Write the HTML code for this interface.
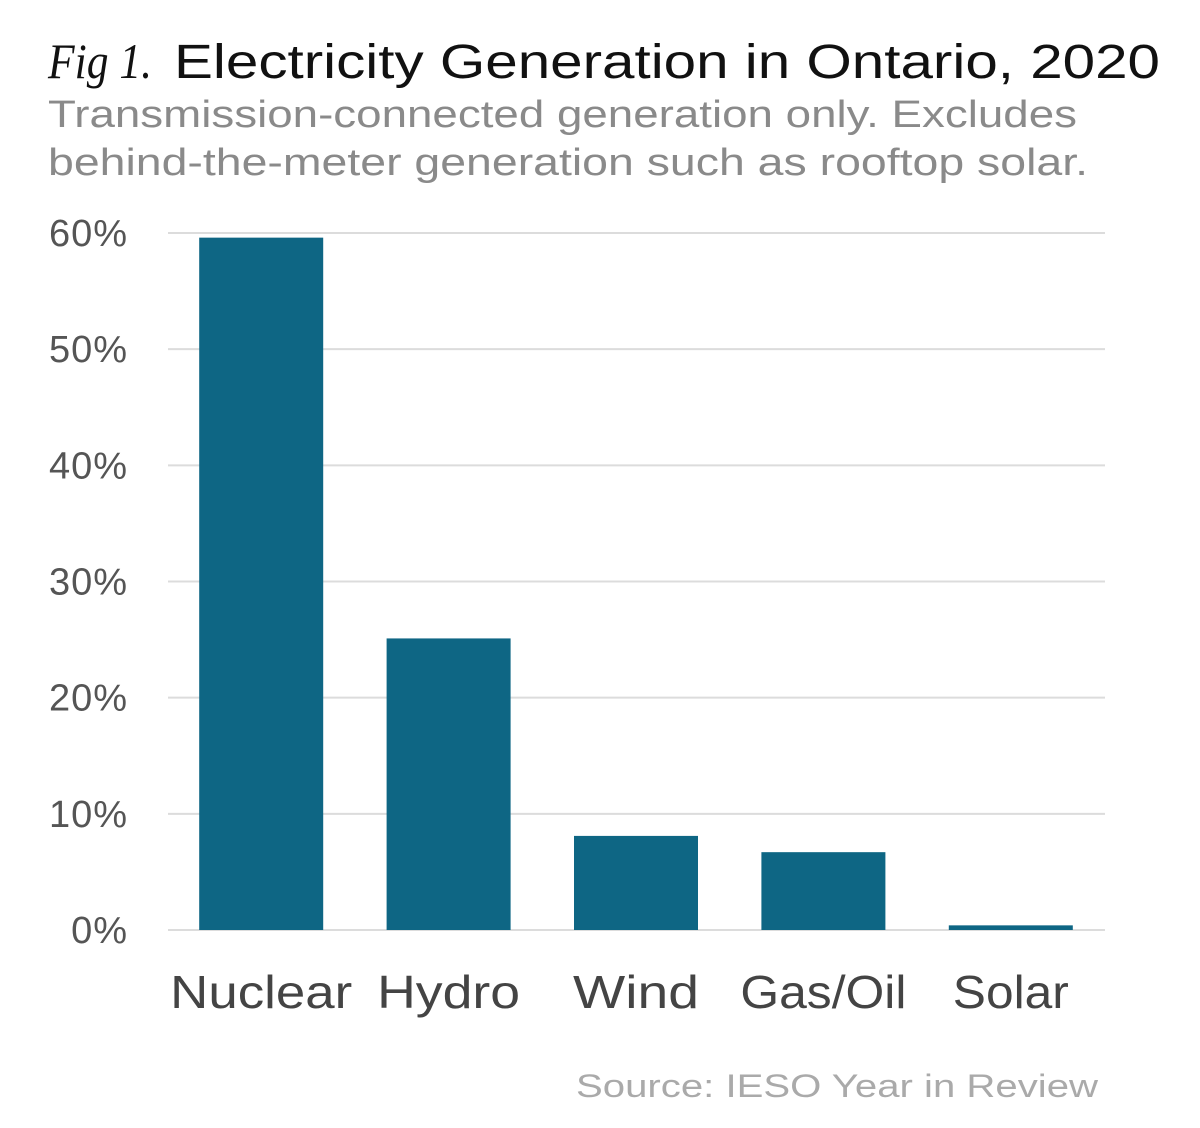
<!DOCTYPE html>
<html><head><meta charset="utf-8"><style>
html,body{margin:0;padding:0;background:#fff;}
svg{display:block;}
</style></head><body>
<svg id="chart" width="1200" height="1128" xmlns="http://www.w3.org/2000/svg">
<rect width="1200" height="1128" fill="#fff"/>
<text x="48" y="78" font-family="Liberation Serif, serif" font-style="italic" font-size="50" fill="#111" textLength="104" lengthAdjust="spacingAndGlyphs">Fig 1.</text>
<text x="174" y="78" font-family="Liberation Sans, sans-serif" font-size="48" fill="#111" textLength="986" lengthAdjust="spacingAndGlyphs">Electricity Generation in Ontario, 2020</text>
<text x="48" y="127" font-family="Liberation Sans, sans-serif" font-size="38" fill="#8a8a8a" textLength="1029" lengthAdjust="spacingAndGlyphs">Transmission-connected generation only. Excludes</text>
<text x="48" y="175" font-family="Liberation Sans, sans-serif" font-size="38" fill="#8a8a8a" textLength="1040" lengthAdjust="spacingAndGlyphs">behind-the-meter generation such as rooftop solar.</text>
<g id="grid"></g>
<g id="bars"></g>
<g id="labels"></g>
<text x="1098" y="1097" text-anchor="end" font-family="Liberation Sans, sans-serif" font-size="32" fill="#aaa" textLength="522" lengthAdjust="spacingAndGlyphs">Source: IESO Year in Review</text>
</svg>
<script>
const categories = ["Nuclear", "Hydro", "Wind", "Gas/Oil", "Solar"];
const values = [59.6, 25.1, 8.1, 6.7, 0.4];
const yTicks = [0, 10, 20, 30, 40, 50, 60];
const yTickLabels = ["0%", "10%", "20%", "30%", "40%", "50%", "60%"];

const NS = "http://www.w3.org/2000/svg";
const plotLeft = 168, plotRight = 1105, y0 = 930, y60 = 233;
const yScale = v => y0 - (v / 60) * (y0 - y60);
const band = (plotRight - plotLeft) / categories.length;
const xCenter = i => plotLeft + band * (i + 0.5) - 0.5;
const barW = 124;

const grid = document.getElementById('grid');
yTicks.forEach((t, i) => {
  const l = document.createElementNS(NS, 'line');
  l.setAttribute('x1', plotLeft); l.setAttribute('x2', plotRight);
  l.setAttribute('y1', yScale(t)); l.setAttribute('y2', yScale(t));
  l.setAttribute('stroke', '#dcdcdc'); l.setAttribute('stroke-width', '2');
  
  
  grid.appendChild(l);
  const tx = document.createElementNS(NS, 'text');
  tx.setAttribute('x', 128); tx.setAttribute('y', yScale(t) + 13);
  tx.setAttribute('text-anchor', 'end');
  tx.setAttribute('font-family', 'Liberation Sans, sans-serif');
  tx.setAttribute('font-size', '38'); tx.setAttribute('fill', '#555');
  tx.setAttribute('letter-spacing', '1');
  tx.textContent = yTickLabels[i];
  
  
  grid.appendChild(tx);
});

const labelWidths = [182, 143, 126, 166, 116];
const bars = document.getElementById('bars');
const labels = document.getElementById('labels');
categories.forEach((c, i) => {
  const r = document.createElementNS(NS, 'rect');
  const top = yScale(values[i]);
  r.setAttribute('x', xCenter(i) - barW / 2); r.setAttribute('y', top);
  r.setAttribute('width', barW); r.setAttribute('height', y0 - top);
  r.setAttribute('fill', '#0e6684');
  
  
  bars.appendChild(r);
  const tx = document.createElementNS(NS, 'text');
  tx.setAttribute('x', xCenter(i) - labelWidths[i] / 2); tx.setAttribute('y', 1008);
  tx.setAttribute('font-family', 'Liberation Sans, sans-serif');
  tx.setAttribute('font-size', '46'); tx.setAttribute('fill', '#444');
  tx.setAttribute('textLength', labelWidths[i]);
  tx.setAttribute('lengthAdjust', 'spacingAndGlyphs');
  tx.textContent = c;
  
  
  labels.appendChild(tx);
});
</script>
</body></html>
